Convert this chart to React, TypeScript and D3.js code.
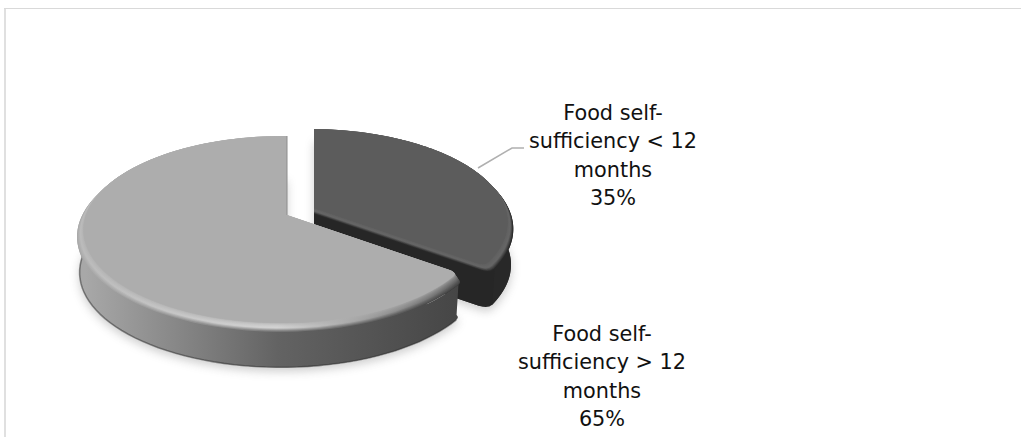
import React from "react";
import * as d3 from "d3";

// Share of households by months of food self-sufficiency
const sliceNames = ["Food self-sufficiency < 12 months", "Food self-sufficiency > 12 months"];
const sliceValues = [35, 65];
const sliceLabelLines = [
  ["Food self-", "sufficiency < 12", "months", "35%"],
  ["Food self-", "sufficiency > 12", "months", "65%"],
];
const sliceTopColors = ["#5c5c5c", "#adadad"];
const cutFaceColor = "#262626";
const stopOffsets = [0, 0.5, 1];
const wallStops = [
  ["#2a2a2a", "#2a2a2a", "#282828"],
  ["#a8a8a8", "#636363", "#444444"],
];
const rimStops = [
  ["#666666", "#666666", "#666666"],
  ["#bcbcbc", "#d6d6d6", "#626262"],
];

const W = 1021;
const H = 437;
const apexes = [
  { x: 314, y: 208 },
  { x: 287, y: 215 },
];
const tilt = 0.155;
const skew = -0.025;
const radiusY = d3.scaleLinear().domain([0, 1]).range([0, 91.2]);
const radiusX = d3.scaleLinear().domain([0, 1]).range([0, 196]);
const RIM = 1.03;
const WALL_FOOT = 1.018;
const BEVEL_DROP = 6;
const DEPTH = 42;
const BEVEL_STEPS = 14;
const CORNER_ANGLE = 0.045;
const CORNER_INSET = 0.05;

const pieLayout = d3.pie<number>().value((d) => d).sort(null);
const lineGen = d3.line<[number, number]>();

function project(i: number, angle: number, r: number, drop: number): [number, number] {
  const s = Math.sin(angle) * r;
  const v = -Math.cos(angle) * r;
  const w = 1 - tilt * v - skew * s;
  return [apexes[i].x + radiusX(s) / w, apexes[i].y + drop + radiusY(v) / w];
}

function arcPoints(i: number, a0: number, a1: number, r: number, drop: number) {
  const n = 90;
  return d3.range(n + 1).map((k) => project(i, a0 + ((a1 - a0) * k) / n, r, drop));
}

const xy = (p: [number, number]) => `${p[0]},${p[1]}`;

// Sector outline whose front corner (where the two slices were cut apart) is rounded.
function sectorPath(i: number, a0: number, a1: number, r: number, drop: number) {
  const apex = project(i, 0, 0, drop);
  if (i === 0) {
    const arc = arcPoints(i, a0, a1 - CORNER_ANGLE, r, drop);
    return (
      `M${xy(apex)}L` + arc.map(xy).join("L") +
      `Q${xy(project(i, a1, r, drop))} ${xy(project(i, a1, r - CORNER_INSET, drop))}Z`
    );
  }
  const arc = arcPoints(i, a0 + CORNER_ANGLE, a1, r, drop);
  return (
    `M${xy(apex)}L${xy(project(i, a0, r - CORNER_INSET, drop))}` +
    `Q${xy(project(i, a0, r, drop))} ${xy(arc[0])}L` + arc.map(xy).join("L") + "Z"
  );
}

function wallPath(i: number, a0: number, a1: number) {
  const s0 = i === 1 ? a0 + CORNER_ANGLE : a0;
  const s1 = i === 0 ? a1 - CORNER_ANGLE : a1;
  const top = arcPoints(i, s0, s1, RIM, BEVEL_DROP);
  const bottom = arcPoints(i, s0, s1, WALL_FOOT, DEPTH).reverse();
  return lineGen([...top, ...bottom]) + "Z";
}

function cutFacePath(i: number, a: number) {
  return (
    lineGen([
      project(i, 0, 0, 0),
      project(i, a, RIM - CORNER_INSET, BEVEL_DROP),
      project(i, a - CORNER_ANGLE, RIM, BEVEL_DROP),
      project(i, a - CORNER_ANGLE, WALL_FOOT, DEPTH),
      project(i, a, WALL_FOOT - CORNER_INSET, DEPTH),
      project(i, 0, 0, DEPTH),
    ]) + "Z"
  );
}

function GradientDef({ id, colors }: { id: string; colors: string[] }) {
  return (
    <linearGradient id={id} gradientUnits="userSpaceOnUse" x1={85} x2={470} y1={0} y2={0}>
      {colors.map((c, k) => (
        <stop key={k} offset={stopOffsets[k]} stopColor={c} />
      ))}
    </linearGradient>
  );
}

// Bevel profile: wall tone, quick rise to the rim highlight, then easing into the slice top.
function bevelColor(i: number, stop: number, t: number) {
  if (t < 0.3) return d3.interpolateRgb(wallStops[i][stop], rimStops[i][stop])(t / 0.3);
  return d3.interpolateRgb(rimStops[i][stop], sliceTopColors[i])((t - 0.3) / 0.7);
}

export default function App() {
  const arcs = pieLayout(sliceValues);
  const steps = d3.range(BEVEL_STEPS + 1);
  return (
    <svg
      width={W}
      height={H}
      style={{ position: "absolute", left: 0, top: 0, background: "#fff" }}
      fontFamily="'DejaVu Sans'"
    >
      <defs>
        <filter id="softShadow" x="-20%" y="-20%" width="140%" height="140%">
          <feGaussianBlur stdDeviation="5" />
        </filter>
        {arcs.map((_, i) => (
          <GradientDef key={i} id={`wall${i}`} colors={wallStops[i]} />
        ))}
        {arcs.map((_, i) =>
          steps.map((k) => (
            <GradientDef
              key={`${i}-${k}`}
              id={`bevel${i}-${k}`}
              colors={stopOffsets.map((_, s) => bevelColor(i, s, k / BEVEL_STEPS))}
            />
          ))
        )}
      </defs>

      <rect x={4} y={8} width={2} height={H - 8} fill="#e0e0e0" />
      <line x1={4} y1={8.5} x2={W} y2={8.5} stroke="#d9d9d9" />

      {/* Ground shadow */}
      <g filter="url(#softShadow)" opacity={0.36} fill="#777">
        {arcs.map((a, i) => (
          <path key={i} d={sectorPath(i, a.startAngle, a.endAngle, 1.02, DEPTH + 4)} />
        ))}
        <path d={sectorPath(0, arcs[0].startAngle, arcs[0].endAngle, 0.98, 12)} />
      </g>

      {arcs.map((a, i) => (
        <g key={sliceNames[i]}>
          <path d={sectorPath(i, a.startAngle, a.endAngle, WALL_FOOT, DEPTH)} fill={`url(#wall${i})`} />
          <path d={wallPath(i, a.startAngle, a.endAngle)} fill={`url(#wall${i})`} />
          {i === 0 && <path d={cutFacePath(i, a.endAngle)} fill={cutFaceColor} />}
          {i === 1 && (
            <path
              d={lineGen(arcPoints(i, a.startAngle + CORNER_ANGLE, a.endAngle, WALL_FOOT, DEPTH)) as string}
              fill="none"
              stroke="#303030"
              strokeOpacity={0.5}
              strokeWidth={1.6}
            />
          )}
          {steps.map((k) => {
            const q = ((k / BEVEL_STEPS) * Math.PI) / 2;
            const r = 1 + (RIM - 1) * (1 - Math.sin(q));
            const drop = BEVEL_DROP * (1 - Math.sin(q));
            return (
              <path
                key={k}
                d={sectorPath(i, a.startAngle, a.endAngle, r, drop)}
                fill={`url(#bevel${i}-${k})`}
              />
            );
          })}
          {i === 1 && (
            <path
              d={lineGen([project(i, a.endAngle, 0, 0), project(i, a.endAngle, 1, 0)]) as string}
              fill="none"
              stroke="#8c8c8c"
              strokeWidth={1}
            />
          )}
        </g>
      ))}

      {/* Leader line for the smaller slice */}
      <polyline
        points={[[478, 168], [512, 148], [524, 148]].map((p) => p.join(",")).join(" ")}
        fill="none"
        stroke="#b0b0b0"
        strokeWidth={1.6}
      />

      {sliceLabelLines.map((lines, i) => (
        <text key={i} textAnchor="middle" fontSize={20.8} fill="#111">
          {lines.map((line, j) => (
            <tspan key={j} x={i === 0 ? 613 : 602} y={(i === 0 ? 120 : 341) + j * 28.3}>
              {line}
            </tspan>
          ))}
        </text>
      ))}
    </svg>
  );
}
